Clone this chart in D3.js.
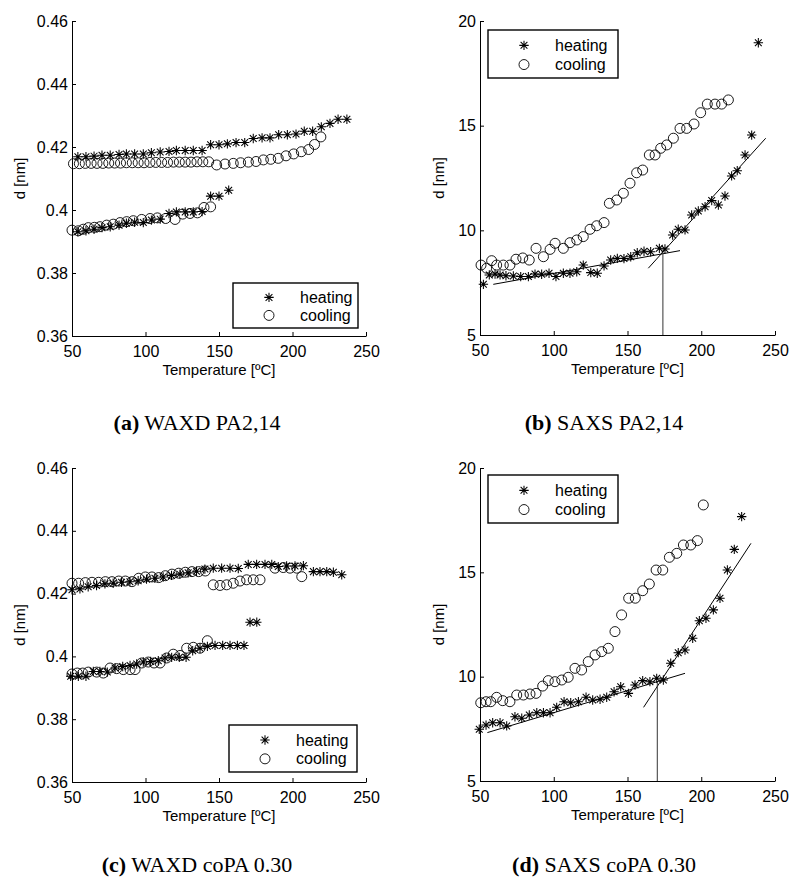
<!DOCTYPE html>
<html><head><meta charset="utf-8">
<script src="https://cdn.jsdelivr.net/npm/d3@7"></script>
<style>body{margin:0;background:#fff}svg{display:block}</style>
</head><body>
<svg id="chart" width="791" height="880"></svg>
<script>
// ---------- data ----------
const tempTicks = [50, 100, 150, 200, 250];
const waxdTicks = [0.36, 0.38, 0.40, 0.42, 0.44, 0.46];
const waxdTickLabels = ["0.36", "0.38", "0.4", "0.42", "0.44", "0.46"];
const saxsTicks = [5, 10, 15, 20];
const saxsTickLabels = ["5", "10", "15", "20"];
const seriesNames = ["heating", "cooling"];
const titles = [["(a)", " WAXD PA2,14"], ["(b)", " SAXS PA2,14"], ["(c)", " WAXD coPA 0.30"], ["(d)", " SAXS coPA 0.30"]];

// (a) WAXD PA2,14
const aHeatT = [54,59.5,65,70.4,76,82,87,92.6,98.5,104,110,116,121,127,132.5,138.5,144.3,150,155.7,161.6,167.5,173.3,179.3,184.7,190.6,196.5,202.4,208,213.7,219.6,225.5,231,237,
  54,59.5,65,70.4,76,82,87,92.6,98.5,104,110,116,121,127,132.5,138.5,144.3,150,156.6];
const aHeatD = [.4169,.4169,.4171,.4174,.4174,.4176,.4178,.4178,.4178,.4182,.4184,.4186,.4189,.4189,.4189,.4189,.4207,.4207,.4210,.4214,.4214,.4227,.4229,.4229,.4239,.4239,.4241,.4250,.4250,.4264,.4275,.4288,.4288,
  .3931,.3934,.3939,.3944,.3947,.3952,.3958,.3961,.3960,.3968,.3971,.3989,.3994,.3994,.3994,.3995,.4044,.4044,.4063];
const aCoolT = [51,55,59,63,67,71,75,79,83,87,91,95,99,103,107,111,115,119,123,127,131,135,139,143,
  148.4,154.1,159.7,164.7,170,175.2,180.2,185.2,190.3,195.6,200.8,206,211,215,219.3,
  50,54.3,57.7,61.1,65.2,69,73.6,78.1,82.7,87.2,91.7,97.4,103.1,108.1,113.7,120.1,125.3,130.3,135.3,139.8,144.3];
const aCoolD = [.4147,.4147,.4148,.4148,.4148,.4148,.4149,.4149,.4149,.4150,.4150,.4150,.4150,.4151,.4151,.4151,.4151,.4152,.4152,.4152,.4152,.4153,.4153,.4153,
  .4143,.4146,.4148,.4150,.4152,.4154,.4159,.4161,.4164,.4172,.4178,.4185,.4192,.4208,.4232,
  .3936,.3934,.3939,.3944,.3945,.3947,.3952,.3955,.3960,.3963,.3966,.3970,.3973,.3975,.3973,.3970,.3987,.3989,.3991,.4008,.4010];

// (b) SAXS PA2,14
const bHeatT = [52.3,56.3,60.2,63.6,67.6,72.6,77.6,82.8,87.3,91.8,96.8,101.5,106.5,111,115.6,120,125.1,129.5,134.1,138.6,143.1,147.6,152.2,156.6,161.2,165.7,171.6,175.4,180.6,184.4,189,193.5,198,202.6,207.1,211.6,216.1,220.6,224.4,229.7,234.2,238.7];
const bHeatD = [7.42,7.87,7.91,7.87,7.83,7.82,7.79,7.79,7.91,7.90,7.95,7.79,7.95,7.95,8.02,8.34,7.98,7.95,8.30,8.58,8.66,8.65,8.74,8.93,9.00,8.98,9.14,9.11,9.78,10.05,10.02,10.73,10.92,11.13,11.42,11.21,11.64,12.60,12.85,13.60,14.55,18.96];
const bCoolT = [50.7,54.5,57.9,61.3,65.8,70.3,74.4,79.0,83.4,88.0,93.0,97.5,100.9,106.5,111.0,115.6,120.0,124.6,129.1,134.1,137.7,142.7,147.2,151.7,156.2,160.3,164.8,168.7,172.5,176.6,181.1,185.6,190.1,195.1,199.6,204.1,209.3,213.8,218.4];
const bCoolD = [8.34,8.19,8.55,8.34,8.34,8.34,8.62,8.68,8.58,9.14,8.74,9.09,9.38,9.14,9.41,9.54,9.70,10.05,10.22,10.37,11.29,11.45,11.77,12.25,12.75,12.88,13.60,13.60,13.92,14.08,14.40,14.87,14.87,15.08,15.62,16.03,16.03,16.03,16.23];
const bFitLow = [[59, 7.42], [185.6, 9.03]];
const bFitHigh = [[164.1, 8.19], [243.7, 14.40]];
const bTransition = [[174, 5], [174, 9.0]];

// (c) WAXD coPA 0.30
const cHeatT = [50,55.4,61,66.7,72.4,78,83.7,89.4,95,100.7,106.4,112,117.7,123.4,129,134.7,140.4,
  146.1,151.8,157.5,163.1,169.9,175.6,181.3,185.9,190.3,196,201.7,207.4,214.2,218.7,223.3,227.8,233.5,
  49.1,54.3,59.5,64.5,69,74,79.3,84.5,89.5,94,98.5,103.5,108.7,113.3,117.8,123,127.6,132.1,137.1,142.1,147.3,152.5,157.5,162.5,167,171.1,175.7];
const cHeatD = [.4212,.4215,.4222,.4226,.4231,.4233,.4236,.4238,.4241,.4246,.4249,.4253,.4258,.4262,.4266,.4271,.4278,
  .4281,.4281,.4281,.4280,.4293,.4293,.4293,.4293,.4286,.4288,.4288,.4289,.4270,.4270,.4270,.4268,.4260,
  .3937,.3937,.3937,.3952,.3952,.3950,.3963,.3968,.3971,.3976,.3982,.3984,.3986,.3995,.3997,.3997,.3997,.4018,.4026,.4032,.4035,.4035,.4035,.4035,.4035,.4109,.4109];
const cCoolT = [50,54.5,59.1,63.6,68.1,72.7,77.2,81.8,86.3,90.8,95.4,99.9,104.4,109,113.5,118,122.6,127.1,131.6,136.2,140.7,
  146.1,150.7,155.2,159.7,164.3,168.8,173.3,177.9,188.1,193.7,198.3,202.9,206.3,
  50,53.6,57.3,61.1,66.8,71.3,75.9,80.4,84.9,89.5,92.9,97.4,101.9,105.8,109.9,114.4,118.9,123.5,128,132.5,137.1,142.1];
const cCoolD = [.4233,.4233,.4235,.4236,.4236,.4238,.4238,.4240,.4240,.4238,.4249,.4253,.4253,.4251,.4257,.4262,.4265,.4268,.4270,.4270,.4272,
  .4228,.4226,.4228,.4233,.4240,.4244,.4244,.4244,.4281,.4283,.4281,.4281,.4254,
  .3944,.3947,.3947,.3950,.3950,.3947,.3963,.3961,.3958,.3958,.3958,.3979,.3982,.3979,.3979,.3995,.4007,.4003,.4026,.4029,.4026,.4050];

// (d) SAXS coPA 0.30
const dHeatT = [49.5,54.1,58.6,63.6,68.1,73.7,78.3,83.4,88.5,93,97.5,102,107,111.5,116.7,121.9,126.4,131.4,135.9,140.9,145.4,150.6,155.1,160.3,165.2,169.8,174.3,179.3,184.4,189,194.2,198.7,203.2,208.2,212.7,217.7,222.4,227.4];
const dHeatD = [7.48,7.68,7.79,7.79,7.64,8.08,8.01,8.16,8.27,8.27,8.27,8.53,8.80,8.75,8.80,9.01,8.88,8.92,9.01,9.28,9.52,9.20,9.60,9.81,9.76,9.92,9.84,10.64,11.15,11.28,11.84,12.68,12.80,13.20,13.76,15.11,16.10,17.67];
const dCoolT = [50.5,54.1,57.3,61.3,65.4,70.3,74.9,79.4,83.9,88,92.5,96.3,100.8,105.4,109.8,114.4,118.9,123.4,128,132.5,137,141.5,146,150.8,155.3,160.3,164.8,169.4,173.9,178.4,183.4,187.9,192.9,197.4,201.4];
const dCoolD = [8.75,8.80,8.80,9.01,8.85,8.80,9.12,9.12,9.17,9.20,9.55,9.81,9.76,9.84,9.97,10.40,10.32,10.72,11.04,11.20,11.36,12.16,12.96,13.76,13.76,14.12,14.44,15.11,15.11,15.72,15.91,16.31,16.31,16.52,18.23];
const dFitLow = [[55, 7.32], [189, 10.16]];
const dFitHigh = [[160.9, 8.53], [233.7, 16.39]];
const dTransition = [[170.2, 5], [170.2, 9.75]];

// ---------- layout ----------
const panels = [
  {title: titles[0], heatT: aHeatT, heatD: aHeatD, coolT: aCoolT, coolD: aCoolD, yDom: [0.36, 0.46], yTicks: waxdTicks, yLabels: waxdTickLabels,
   box: {l: 72, r: 366, t: 21, b: 336}, legend: {x: 233, y: 283, w: 125, h: 45}, fits: [], vlines: [], cx: 197, ty: 430, ylx: 20},
  {title: titles[1], heatT: bHeatT, heatD: bHeatD, coolT: bCoolT, coolD: bCoolD, yDom: [5, 20], yTicks: saxsTicks, yLabels: saxsTickLabels,
   box: {l: 480, r: 775, t: 21, b: 335}, legend: {x: 488, y: 30, w: 130, h: 48}, fits: [bFitLow, bFitHigh], vlines: [bTransition], cx: 604, ty: 430, ylx: 439},
  {title: titles[2], heatT: cHeatT, heatD: cHeatD, coolT: cCoolT, coolD: cCoolD, yDom: [0.36, 0.46], yTicks: waxdTicks, yLabels: waxdTickLabels,
   box: {l: 72, r: 366, t: 468, b: 782}, legend: {x: 229, y: 725, w: 128, h: 47}, fits: [], vlines: [], cx: 197, ty: 872, ylx: 20},
  {title: titles[3], heatT: dHeatT, heatD: dHeatD, coolT: dCoolT, coolD: dCoolD, yDom: [5, 20], yTicks: saxsTicks, yLabels: saxsTickLabels,
   box: {l: 480, r: 775, t: 468, b: 781}, legend: {x: 488, y: 475, w: 130, h: 48}, fits: [dFitLow, dFitHigh], vlines: [dTransition], cx: 604, ty: 872, ylx: 439}
];

const svg = d3.select("#chart");
const SANS = "'Liberation Sans', Arial, Helvetica, sans-serif";
const SERIF = "'Liberation Serif', 'Times New Roman', serif";

function starPath(r) {
  const q = r * 0.72;
  return `M${-r},0L${r},0M0,${-r}L0,${r}M${-q},${-q}L${q},${q}M${-q},${q}L${q},${-q}`;
}
const STAR = starPath(4.7);
const CIRC_R = 5;

panels.forEach(p => {
  const x = d3.scaleLinear().domain([50, 250]).range([p.box.l, p.box.r]);
  const y = d3.scaleLinear().domain(p.yDom).range([p.box.b, p.box.t]);
  const g = svg.append("g");

  // axes
  const xa = g.append("g").attr("transform", `translate(0,${p.box.b})`)
    .call(d3.axisBottom(x).tickValues(tempTicks).tickFormat(d3.format("d")).tickSizeInner(-4).tickSizeOuter(0).tickPadding(6));
  const ya = g.append("g").attr("transform", `translate(${p.box.l},0)`)
    .call(d3.axisLeft(y).tickValues(p.yTicks).tickFormat((d, i) => p.yLabels[i]).tickSizeInner(-4).tickSizeOuter(0).tickPadding(4));
  [xa, ya].forEach(a => {
    a.selectAll("path.domain").attr("stroke", "#000").attr("stroke-width", 1);
    a.selectAll(".tick line").attr("stroke", "#000").attr("stroke-width", 1);
    a.selectAll("text").attr("font-family", SANS).attr("font-size", 16).attr("fill", "#000");
  });
  xa.selectAll("text").attr("dy", "0.95em");

  // axis labels
  g.append("text").attr("x", (p.box.l + p.box.r) / 2).attr("y", p.box.b + 39)
    .attr("text-anchor", "middle").attr("font-family", SANS).attr("font-size", 15).text("Temperature [ºC]");
  g.append("text").attr("transform", `translate(${p.ylx},${(p.box.t + p.box.b) / 2}) rotate(-90)`)
    .attr("text-anchor", "middle").attr("dy", "0.35em").attr("font-family", SANS).attr("font-size", 15).text("d [nm]");

  // fit lines
  const line = d3.line().x(d => x(d[0])).y(d => y(d[1]));
  p.fits.forEach(f => g.append("path").attr("d", line(f)).attr("fill", "none").attr("stroke", "#000").attr("stroke-width", 1));
  p.vlines.forEach(f => g.append("path").attr("d", line(f)).attr("fill", "none").attr("stroke", "#333").attr("stroke-width", 1));

  // cooling circles
  g.append("g").selectAll("circle").data(d3.zip(p.coolT, p.coolD)).join("circle")
    .attr("cx", d => x(d[0])).attr("cy", d => y(d[1])).attr("r", CIRC_R)
    .attr("fill", "none").attr("stroke", "#000").attr("stroke-width", 0.9);
  // heating stars
  g.append("g").selectAll("path").data(d3.zip(p.heatT, p.heatD)).join("path")
    .attr("transform", d => `translate(${x(d[0])},${y(d[1])})`).attr("d", STAR)
    .attr("fill", "none").attr("stroke", "#000").attr("stroke-width", 1.05);

  // legend
  const L = p.legend;
  const lg = g.append("g");
  lg.append("rect").attr("x", L.x).attr("y", L.y).attr("width", L.w).attr("height", L.h)
    .attr("fill", "#fff").attr("stroke", "#000").attr("stroke-width", 1.4);
  const rowY = [L.y + L.h * 0.32, L.y + L.h * 0.72];
  lg.append("path").attr("transform", `translate(${L.x + 36},${rowY[0]})`).attr("d", STAR)
    .attr("fill", "none").attr("stroke", "#000").attr("stroke-width", 1.05);
  lg.append("circle").attr("cx", L.x + 36).attr("cy", rowY[1]).attr("r", CIRC_R)
    .attr("fill", "none").attr("stroke", "#000").attr("stroke-width", 0.9);
  seriesNames.forEach((n, i) => lg.append("text").attr("x", L.x + 67).attr("y", rowY[i]).attr("dy", "0.35em")
    .attr("font-family", SANS).attr("font-size", 16).text(n));

  // caption
  const t = g.append("text").attr("x", p.cx).attr("y", p.ty).attr("text-anchor", "middle")
    .attr("font-family", SERIF).attr("font-size", 22);
  t.append("tspan").attr("font-weight", "bold").text(p.title[0]);
  t.append("tspan").text(p.title[1]);
});
</script>
</body></html>
